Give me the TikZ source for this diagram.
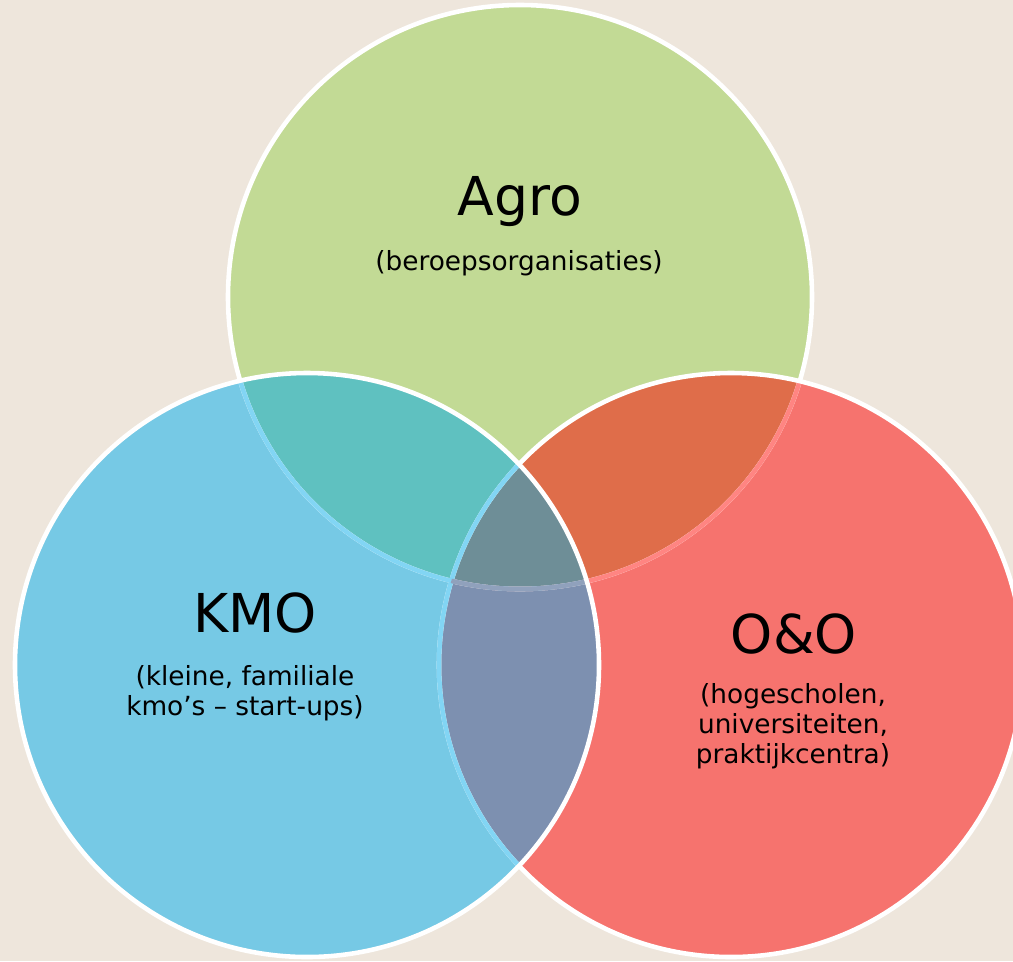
\documentclass[tikz,border=0pt]{standalone}
\usepackage{fontspec}
\setmainfont{DejaVu Sans}

\definecolor{paper}{HTML}{EEE6DC}
\definecolor{agrogreen}{HTML}{C2DA95}
\definecolor{kmoblue}{HTML}{76C9E5}
\definecolor{oored}{HTML}{F6736E}
\definecolor{agrokmo}{HTML}{5FC1C0}
\definecolor{agrooo}{HTML}{DF6D4A}
\definecolor{kmooo}{HTML}{7D90B0}
\definecolor{allthree}{HTML}{6E8E97}
\definecolor{blueline}{HTML}{82D5F4}
\definecolor{redline}{HTML}{FF8582}

\tikzset{
	rim/.style={draw=white, line width=2.6pt},
	title/.style={font=\fontsize{30.5}{36}\selectfont, inner sep=0pt, anchor=base},
	sub/.style={font=\fontsize{15}{17.2}\selectfont, align=center, inner sep=0pt}
}

\begin{document}
\begin{tikzpicture}[x=0.02cm, y=-0.02cm]
	\useasboundingbox (0,0) rectangle (1013,961);
	\fill[paper] (0,0) rectangle (1013,961);

	\coordinate (agro) at (520,297);
	\coordinate (kmo) at (307,665);
	\coordinate (oo) at (731,665);

	% the three discs
	\fill[agrogreen] (agro) circle (292);
	\fill[oored] (oo) circle (292);
	\fill[kmoblue] (kmo) circle (292);

	% overlaps
	\begin{scope}
		\clip (agro) circle (292);
		\fill[agrokmo] (kmo) circle (292);
		\fill[agrooo] (oo) circle (292);
	\end{scope}
	\begin{scope}
		\clip (kmo) circle (292);
		\fill[kmooo] (oo) circle (292);
		\clip (oo) circle (292);
		\fill[allthree] (agro) circle (292);
	\end{scope}

	% rims
	\draw[rim] (agro) circle (292);
	\begin{scope}
		\clip (oo) circle (292);
		\draw[rim, draw=redline] (agro) circle (292);
	\end{scope}
	\draw[rim] (oo) circle (292);
	\begin{scope}
		\clip (kmo) circle (292);
		\draw[rim, draw=blueline] (agro) circle (292);
		\draw[rim, draw=blueline] (oo) circle (292);
		\clip (oo) circle (292);
		\draw[draw=kmooo!85!white, line width=2.6pt] (agro) circle (292);
	\end{scope}
	\draw[rim] (kmo) circle (292);

	% labels
	\node[title] (agrotitle) at (520,215) {Agro};
	\node[sub] (agrosub) at (519,263) {(beroepsorganisaties)};

	\node[title] (kmotitle) at (255,632) {KMO};
	\node[sub] (kmosub) at (245,693) {(kleine, familiale\\kmo’s – start-ups)};

	\node[title] (ootitle) at (794,653) {O\&O};
	\node[sub] (oosub) at (793,726) {(hogescholen,\\universiteiten,\\praktijkcentra)};
\end{tikzpicture}
\end{document}
